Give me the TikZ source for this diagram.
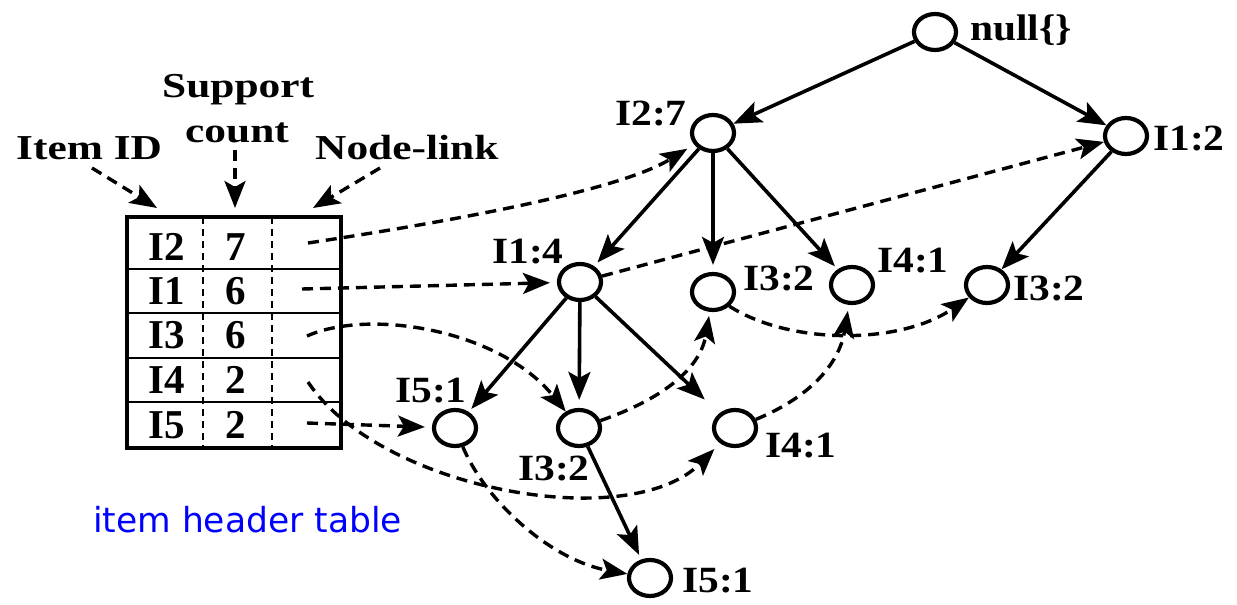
\documentclass[tikz,border=0pt]{standalone}
\usepackage{fontspec}
\setmainfont{Liberation Serif}
\newfontfamily\lblfont{Liberation Serif}[FakeStretch=1.12]
\newfontfamily\hdrfont{Liberation Serif}[FakeStretch=1.24]
\newfontfamily\tabfont{Liberation Serif}
\newfontfamily\bluefont{DejaVu Sans}
\usetikzlibrary{shapes.geometric,arrows.meta}
\begin{document}
\begin{tikzpicture}[x=1pt,y=-1pt,
  tnode/.style={draw, ellipse, line width=4.2pt, minimum width=42pt, minimum height=36pt, inner sep=0pt},
  lbl/.style={inner sep=0pt, anchor=base west, font=\lblfont\bfseries\fontsize{37}{42}\selectfont},
  hdr/.style={inner sep=0pt, anchor=base west, font=\hdrfont\bfseries\fontsize{35}{40}\selectfont},
  tab/.style={inner sep=0pt, anchor=center, font=\tabfont\bfseries\fontsize{41}{48}\selectfont},
  edge/.style={line width=3.6pt, -{Stealth[length=28pt,width=22pt,inset=6pt]}},
  link/.style={line width=3.4pt, dash pattern=on 11pt off 7pt, -{Stealth[length=27pt,width=21pt,inset=6pt]}},
]
\useasboundingbox (0,0) rectangle (1237,605);

% ---------- tree nodes ----------
\node[tnode] (n0)   at (935,32)  {};
\node[tnode] (n27)  at (713,133) {};
\node[tnode] (n12)  at (1126,136) {};
\node[tnode] (n14)  at (580,282) {};
\node[tnode] (n32a) at (713,292) {};
\node[tnode] (n41a) at (852,285) {};
\node[tnode] (n32b) at (987,285) {};
\node[tnode] (n51a) at (455,428) {};
\node[tnode] (n32c) at (579,428) {};
\node[tnode] (n41b) at (735,428) {};
\node[tnode] (n51b) at (650,578) {};

% ---------- tree labels ----------
\node[lbl] (L0)   at (970,40)  {null\{\}};
\node[lbl] (L27)  at (615,125) {I2:7};
\node[lbl] (L12)  at (1153,150) {I1:2};
\node[lbl] (L14)  at (492,263) {I1:4};
\node[lbl] (L32a) at (743,290) {I3:2};
\node[lbl] (L41a) at (877,272) {I4:1};
\node[lbl] (L32b) at (1013,300) {I3:2};
\node[lbl] (L51a) at (395,402) {I5:1};
\node[lbl] (L32c) at (518,480) {I3:2};
\node[lbl] (L41b) at (765,457) {I4:1};
\node[lbl] (L51b) at (682,592) {I5:1};

% ---------- tree edges ----------
\draw[edge] (n0) -- (n27);
\draw[edge] (n0) -- (n12);
\draw[edge, shorten >=5pt] (n27) -- (n14);
\draw[edge, shorten >=7pt] (n27) -- (n32a);
\draw[edge, shorten >=4pt] (n27) -- (n41a);
\draw[edge] (n12) -- (n32b);
\draw[edge, shorten >=4pt] (n14) -- (n51a);
\draw[edge, shorten >=8pt] (n14) -- (n32c);
\draw[edge, shorten >=20pt] (n14) -- (n41b);
\draw[edge, shorten >=5pt] (n32c) -- (n51b);

% ---------- header table ----------
\draw[line width=2.2pt] (127,269) -- (341,269) (127,313) -- (341,313)
  (127,358) -- (341,358) (127,402) -- (341,402);
\draw[line width=2.2pt, dash pattern=on 7pt off 5pt] (203,217) -- (203,448) (272,217) -- (272,448);
\draw[line width=4.4pt] (127,217) rectangle (341,448);

\node[tab] (r1a) at (167,247) {I2};
\node[tab] (r1b) at (236,247) {7};
\node[tab] (r2a) at (167,291) {I1};
\node[tab] (r2b) at (236,291) {6};
\node[tab] (r3a) at (167,335) {I3};
\node[tab] (r3b) at (236,335) {6};
\node[tab] (r4a) at (167,380) {I4};
\node[tab] (r4b) at (236,380) {2};
\node[tab] (r5a) at (167,425) {I5};
\node[tab] (r5b) at (236,425) {2};

\coordinate (k1) at (308,243);
\coordinate (k2) at (302,289);
\coordinate (k3) at (307,336);
\coordinate (k4) at (308,382);
\coordinate (k5) at (307,423);

% ---------- column headers ----------
\node[hdr] (hid)  at (16,159)  {Item ID};
\node[hdr] (hsup) at (162,97)  {Support};
\node[hdr] (hcnt) at (185,142) {count};
\node[hdr] (hnl)  at (315,159) {Node-link};
\coordinate (hidS) at (92,168);
\coordinate (hidT) at (157,208);
\coordinate (hcntS) at (235,150);
\coordinate (hcntT) at (235,208);
\coordinate (hnlS) at (380,168);
\coordinate (hnlT) at (313,208);
\draw[link] (hidS) -- (hidT);
\draw[link] (hcntS) -- (hcntT);
\draw[link] (hnlS) -- (hnlT);

% ---------- node links ----------
\draw[link, shorten >=8pt] (k1) .. controls (460,220) and (620,190) .. (n27);
\draw[link, shorten >=7pt] (k2) -- (n14);
\draw[link] (k3) .. controls (370,308) and (500,330) .. (n32c);
\draw[link, shorten >=8pt] (k4) .. controls (380,490) and (630,535) .. (n41b);
\draw[link, shorten >=7pt] (k5) -- (n51a);
\draw[link] (n14) -- (n12);
\draw[link] (n51a) .. controls (485,500) and (550,560) .. (n51b);
\draw[link, shorten >=4pt] (n32c) .. controls (660,400) and (700,370) .. (n32a);
\draw[link, shorten >=6pt] (n41b) .. controls (815,395) and (840,360) .. (n41a);
\draw[link] (n32a.south east) .. controls (790,345) and (900,345) .. (n32b);

% ---------- caption ----------
\node[inner sep=0pt, anchor=base west, text=blue, font=\bluefont\fontsize{34.5}{40}\selectfont] (cap) at (93,532) {item header table};
\end{tikzpicture}
\end{document}
